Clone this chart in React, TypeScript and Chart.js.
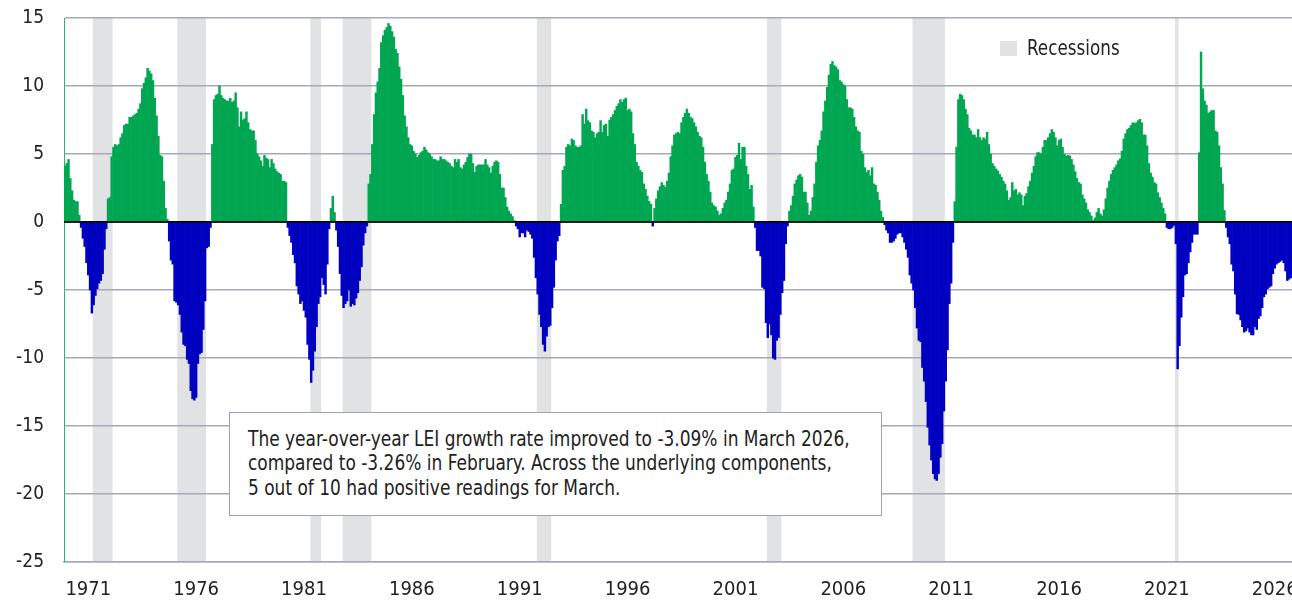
import React, { useEffect, useRef } from 'react';
import { Chart, registerables } from 'chart.js';

Chart.register(...registerables);

// ---------- DATA ----------
// Year-over-year LEI growth (%), monthly, first value = Aug 1968
const lei1968to1979 = [
  4.1, 4.3, 4.6, 3.2, 2.3, // 1968 Aug-Dec
  1.6, 1.5, 1.5, 0.5, -0.4, -1.2, -1.8, -3.0, -3.9, -5.0, -6.7, -6.1, // 1969
  -5.4, -4.9, -4.5, -4.3, -3.8, -2.0, -0.5, 1.7, 1.8, 4.8, 5.5, 5.7, // 1970
  5.6, 5.7, 6.2, 6.5, 7.1, 7.2, 7.2, 7.7, 7.7, 7.8, 7.9, 8.0, // 1971
  8.3, 8.7, 9.8, 10.2, 10.6, 11.3, 11.1, 10.9, 10.4, 9.1, 7.8, 6.3, // 1972
  4.9, 4.8, 3.0, 1.0, 0.2, -1.4, -2.8, -3.1, -5.8, -5.9, -6.1, -6.8, // 1973
  -8.1, -9.0, -9.1, -10.1, -10.4, -12.4, -13.0, -13.1, -12.9, -10.4, -9.7, -9.6, // 1974
  -7.9, -5.8, -1.9, -1.8, -0.4, 5.7, 9.0, 9.3, 9.4, 10.0, 9.3, 9.1, // 1975
  9.0, 8.9, 8.9, 9.1, 8.8, 8.9, 9.5, 8.4, 7.0, 8.1, 7.5, 7.6, // 1976
  8.1, 7.3, 6.8, 6.7, 6.7, 6.0, 5.0, 4.8, 4.5, 4.1, 4.9, 4.7, // 1977
  4.6, 4.0, 4.6, 4.3, 3.9, 3.7, 3.6, 3.5, 3.0, 3.0, 2.9, -0.4, // 1978
  -1.0, -1.5, -2.4, -3.0, -4.7, -5.3, -6.0, -5.8, -6.5, -7.0, -9.0, -10.1, // 1979
];
const lei1980s = [
  -11.8, -10.9, -9.5, -7.7, -6.0, -5.5, -4.1, -4.6, -5.3, -3.1, -0.5, 1.0, // 1980
  1.9, 0.7, -0.6, -1.8, -3.8, -5.4, -6.3, -6.0, -5.8, -5.0, -6.2, -6.0, // 1981
  -6.1, -5.6, -5.2, -4.3, -3.3, -1.7, -0.8, -0.3, 2.8, 3.5, 5.7, 7.9, // 1982
  9.5, 10.3, 11.3, 13.2, 13.7, 14.1, 14.3, 14.6, 14.4, 14.0, 13.6, 12.7, // 1983
  12.4, 11.4, 10.5, 9.3, 7.8, 7.0, 6.2, 5.7, 5.6, 5.2, 5.0, 4.75, // 1984
  4.9, 5.1, 5.2, 5.5, 5.3, 5.1, 5.0, 4.8, 4.6, 4.6, 4.5, 4.5, // 1985
  4.8, 4.6, 4.6, 4.5, 4.4, 4.3, 4.1, 4.0, 4.6, 4.4, 4.6, 4.0, // 1986
  3.9, 4.2, 4.4, 4.75, 5.0, 5.0, 4.3, 3.65, 4.1, 4.2, 4.2, 4.2, // 1987
  4.2, 4.6, 4.2, 4.0, 3.6, 4.1, 4.4, 4.5, 4.4, 3.5, 2.5, 2.5, // 1988
  1.8, 1.1, 0.8, 0.6, 0.4, 0.1, -0.3, -0.5, -1.1, -0.8, -0.8, -1.1, // 1989
];
const lei1990s = [
  -0.6, -0.7, -0.9, -1.2, -2.6, -4.1, -5.3, -6.8, -7.7, -9.0, -9.5, -8.4, // 1990
  -7.7, -7.6, -6.3, -4.8, -2.8, -1.4, -1.0, 1.3, 3.8, 4.1, 5.5, 5.7, // 1991
  5.6, 6.1, 6.0, 5.6, 5.5, 5.5, 5.6, 7.9, 7.2, 8.3, 7.45, 7.3, // 1992
  6.7, 6.6, 6.2, 6.5, 6.6, 7.45, 6.6, 7.1, 7.2, 6.3, 7.5, 7.7, // 1993
  7.9, 8.2, 8.5, 8.7, 9.0, 8.8, 9.0, 9.1, 8.2, 8.3, 8.1, 6.5, // 1994
  5.7, 4.4, 4.1, 3.8, 3.65, 2.8, 2.4, 1.9, 1.5, 1.3, -0.3, 1.0, // 1995
  1.7, 2.3, 2.6, 2.9, 2.7, 2.55, 3.0, 3.6, 4.8, 5.6, 6.4, 6.5, // 1996
  6.6, 6.5, 7.3, 7.7, 8.0, 8.3, 8.0, 7.7, 7.6, 7.3, 7.0, 6.6, // 1997
  6.3, 6.2, 5.5, 4.4, 3.5, 3.0, 2.2, 1.4, 1.2, 1.1, 0.8, 0.5, // 1998
  0.6, 1.0, 1.4, 1.6, 2.2, 2.8, 3.8, 3.9, 4.75, 4.9, 5.8, 4.6, // 1999
];
const lei2000s = [
  5.5, 5.5, 4.1, 3.5, 2.4, 2.7, 1.1, -0.4, -2.1, -2.1, -2.5, -4.8, // 2000
  -4.9, -7.4, -8.5, -7.5, -8.3, -10.0, -10.1, -8.7, -8.5, -6.8, -5.2, -4.3, // 2001
  -1.6, -0.3, 0.8, 1.2, 1.9, 2.8, 3.1, 3.4, 3.5, 3.3, 2.2, 2.2, // 2002
  1.4, 0.5, 0.8, 1.8, 2.8, 4.4, 5.6, 6.0, 6.7, 8.1, 8.9, 9.9, // 2003
  10.8, 11.6, 11.8, 11.5, 11.4, 11.2, 10.4, 10.3, 10.1, 10.0, 9.0, 8.4, // 2004
  8.4, 8.3, 7.7, 7.0, 6.7, 6.6, 5.2, 5.0, 4.0, 3.65, 3.8, 3.4, // 2005
  4.0, 2.8, 2.7, 2.2, 1.6, 0.8, 0.35, -0.2, -0.6, -0.8, -1.5, -1.5, // 2006
  -1.4, -1.2, -0.9, -0.8, -0.8, -1.1, -1.5, -2.0, -2.6, -3.9, -4.5, -5.0, // 2007
  -6.3, -7.8, -8.7, -8.8, -10.7, -11.7, -13.2, -15.1, -16.4, -17.5, -18.5, -18.9, // 2008
  -19.0, -18.5, -17.3, -16.3, -13.9, -11.7, -9.4, -6.0, -4.5, -1.5, 1.5, 5.5, // 2009
];
const lei2010s = [
  9.0, 9.4, 9.3, 9.0, 8.3, 7.9, 6.9, 6.7, 6.4, 6.4, 6.2, 6.8, // 2010
  6.2, 6.0, 6.2, 6.1, 6.6, 5.7, 5.0, 4.3, 4.1, 3.9, 3.75, 3.5, // 2011
  3.3, 3.0, 2.8, 2.3, 1.6, 1.8, 2.9, 2.3, 2.4, 2.0, 2.15, 2.0, // 2012
  1.2, 1.9, 2.1, 2.6, 3.0, 3.6, 4.1, 4.8, 5.1, 5.1, 5.0, 5.5, // 2013
  6.0, 6.0, 6.2, 6.5, 6.8, 6.6, 6.2, 5.6, 6.0, 6.1, 5.5, 5.0, // 2014
  4.85, 4.9, 4.85, 4.6, 4.2, 3.7, 3.2, 2.9, 2.8, 2.0, 1.7, 1.4, // 2015
  0.9, 0.7, 0.45, 0.1, 0.3, 0.7, 1.0, 0.6, 0.45, 0.9, 1.7, 2.5, // 2016
  3.0, 3.5, 3.8, 4.0, 4.2, 4.5, 4.65, 5.2, 6.1, 6.5, 6.8, 6.9, // 2017
  7.1, 7.3, 7.25, 7.3, 7.45, 7.55, 7.3, 6.4, 6.4, 5.6, 4.3, 3.6, // 2018
  3.3, 2.9, 2.8, 2.15, 1.8, 1.4, 1.0, 0.6, -0.4, -0.5, -0.5, -0.4, // 2019
];
const lei2020s = [
  -0.25, -1.6, -10.8, -9.1, -7.0, -5.5, -3.9, -3.8, -3.0, -2.2, -1.5, -0.9, // 2020
  -0.9, -0.9, 5.1, 12.5, 9.8, 8.9, 8.6, 8.0, 8.1, 8.2, 8.2, 6.7, // 2021
  6.6, 5.6, 4.0, 2.8, 0.85, -0.4, -1.1, -1.6, -3.1, -3.6, -5.3, -6.75, // 2022
  -6.8, -7.2, -7.7, -8.1, -8.0, -7.8, -8.1, -8.3, -8.3, -7.7, -7.9, -7.1, // 2023
  -6.9, -6.3, -5.5, -5.3, -4.9, -4.8, -4.7, -3.8, -3.4, -3.1, -3.0, -2.9, // 2024
  -2.8, -3.0, -3.6, -4.3, -4.2, -4.1, -4.1, -3.9, -3.8, -3.6, -3.5, -3.4, // 2025
  -3.3, -3.26, -3.09, // 2026 Jan-Mar
];

const FIRST_YEAR = 1968;
const FIRST_MONTH = 8;

// NBER recessions (start month, end month)
const recessionStarts = ['1969-12', '1973-11', '1980-01', '1981-07', '1990-07', '2001-03', '2007-12', '2020-02'];
const recessionEnds = ['1970-11', '1975-03', '1980-07', '1982-11', '1991-03', '2001-11', '2009-06', '2020-04'];

// axis tick labels as printed on the chart
const xTickLabels = ['1971', '1976', '1981', '1986', '1991', '1996', '2001', '2006', '2011', '2016', '2021', '2026'];
const yTicks = [15, 10, 5, 0, -5, -10, -15, -20, -25];

const leiValues = [...lei1968to1979, ...lei1980s, ...lei1990s, ...lei2000s, ...lei2010s, ...lei2020s];
const months: string[] = leiValues.map((_, i) => {
  const m0 = FIRST_MONTH - 1 + i;
  const y = FIRST_YEAR + Math.floor(m0 / 12);
  const m = (m0 % 12) + 1;
  return `${y}-${m < 10 ? '0' + m : m}`;
});

// ---------- STYLE ----------
const FONT = "'DejaVu Sans Condensed', 'Roboto', sans-serif";
const GREEN = '#00a651';
const BLUE = '#0000c0';
const GRID = '#a8a8bc';
const RECESSION = '#e1e2e4';
const TEXT = '#222222';
const TICK_FIRST = 13;
const TICK_STEP = 60;

const recessionPlugin = {
  id: 'recessionBands',
  beforeDraw(chart: any) {
    const { ctx, chartArea, scales } = chart;
    const x = scales.x;
    const step = x.getPixelForValue(1) - x.getPixelForValue(0);
    ctx.save();
    ctx.fillStyle = RECESSION;
    recessionStarts.forEach((s, k) => {
      const i0 = months.indexOf(s);
      const i1 = months.indexOf(recessionEnds[k]);
      if (i0 < 0 || i1 < 0) return;
      const x0 = x.getPixelForValue(i0) - step / 2;
      const x1 = x.getPixelForValue(i1) - step / 2;
      ctx.fillRect(x0, chartArea.top, x1 - x0, chartArea.bottom - chartArea.top);
    });
    ctx.restore();
  },
};

const zeroLinePlugin = {
  id: 'zeroLine',
  afterDatasetsDraw(chart: any) {
    const { ctx, chartArea, scales } = chart;
    const y0 = scales.y.getPixelForValue(0);
    ctx.save();
    ctx.strokeStyle = '#000000';
    ctx.lineWidth = 1.5;
    ctx.beginPath();
    ctx.moveTo(chartArea.left, y0);
    ctx.lineTo(chartArea.right, y0);
    ctx.stroke();
    ctx.restore();
  },
};

export default function App() {
  const canvasRef = useRef<HTMLCanvasElement | null>(null);

  useEffect(() => {
    if (!canvasRef.current) return;
    const chart = new Chart(canvasRef.current, {
      type: 'bar',
      data: {
        labels: months,
        datasets: [
          {
            label: 'LEI YoY',
            data: leiValues,
            backgroundColor: (c: any) => ((c.raw ?? 0) >= 0 ? GREEN : BLUE),
            borderWidth: 0,
            barPercentage: 1,
            categoryPercentage: 1,
          },
        ],
      },
      options: {
        responsive: false,
        animation: false,
        devicePixelRatio: 1,
        layout: { padding: { top: 18, left: 0, right: 0, bottom: 0 } },
        plugins: { legend: { display: false }, tooltip: { enabled: false } },
        scales: {
          x: {
            type: 'category',
            offset: true,
            grid: { display: false, drawTicks: true, tickLength: 16 },
            border: { display: true, color: GRID, width: 1.5 },
            ticks: {
              autoSkip: false,
              maxRotation: 0,
              minRotation: 0,
              padding: 0,
              color: TEXT,
              font: { family: FONT, size: 20 },
              callback: (_v: any, index: number) => {
                const k = index - TICK_FIRST;
                if (k >= 0 && k % TICK_STEP === 0) return xTickLabels[k / TICK_STEP] ?? '';
                return '';
              },
            },
            afterFit: (s: any) => {
              s.height = 41;
            },
          },
          y: {
            min: yTicks[yTicks.length - 1],
            max: yTicks[0],
            afterBuildTicks: (s: any) => {
              s.ticks = yTicks.map((v) => ({ value: v }));
            },
            ticks: {
              padding: 0,
              color: TEXT,
              font: { family: FONT, size: 19 },
            },
            grid: {
              drawTicks: true,
              tickLength: 20,
              tickColor: 'rgba(0,0,0,0)',
              lineWidth: 1.5,
              color: (c: any) => (c.tick && c.tick.value === 0 ? '#000000' : GRID),
            },
            border: { display: true, color: '#2db36a', width: 1 },
            afterFit: (s: any) => {
              s.width = 64;
            },
          },
        },
      },
      plugins: [recessionPlugin, zeroLinePlugin],
    } as any);
    return () => chart.destroy();
  }, []);

  return (
    <div
      style={{
        position: 'fixed',
        left: 0,
        top: 0,
        width: 1292,
        height: 603,
        overflow: 'hidden',
        background: '#ffffff',
      }}
    >
      <canvas ref={canvasRef} width={1308} height={603} style={{ display: 'block' }} />
      <div
        style={{
          position: 'absolute',
          left: 1000,
          top: 41,
          width: 17,
          height: 15,
          background: RECESSION,
        }}
      />
      <div
        style={{
          position: 'absolute',
          left: 1027,
          top: 35,
          fontFamily: FONT,
          fontSize: 22,
          lineHeight: '26px',
          color: TEXT,
          whiteSpace: 'nowrap',
          transform: 'scaleX(0.85)',
          transformOrigin: 'left top',
        }}
      >
        Recessions
      </div>
      <div
        style={{
          position: 'absolute',
          left: 229,
          top: 412,
          width: 653,
          height: 104,
          boxSizing: 'border-box',
          border: '1px solid #a0a0b4',
          background: '#ffffff',
          padding: '14px 0 0 18px',
          overflow: 'hidden',
        }}
      >
        <div
          style={{
            fontFamily: FONT,
            fontSize: 21,
            lineHeight: '24.3px',
            color: TEXT,
            whiteSpace: 'nowrap',
            transform: 'scaleX(0.9)',
            transformOrigin: 'left top',
          }}
        >
          The year-over-year LEI growth rate improved to -3.09% in March 2026,
          <br />
          compared to -3.26% in February. Across the underlying components,
          <br />5 out of 10 had positive readings for March.
        </div>
      </div>
    </div>
  );
}
